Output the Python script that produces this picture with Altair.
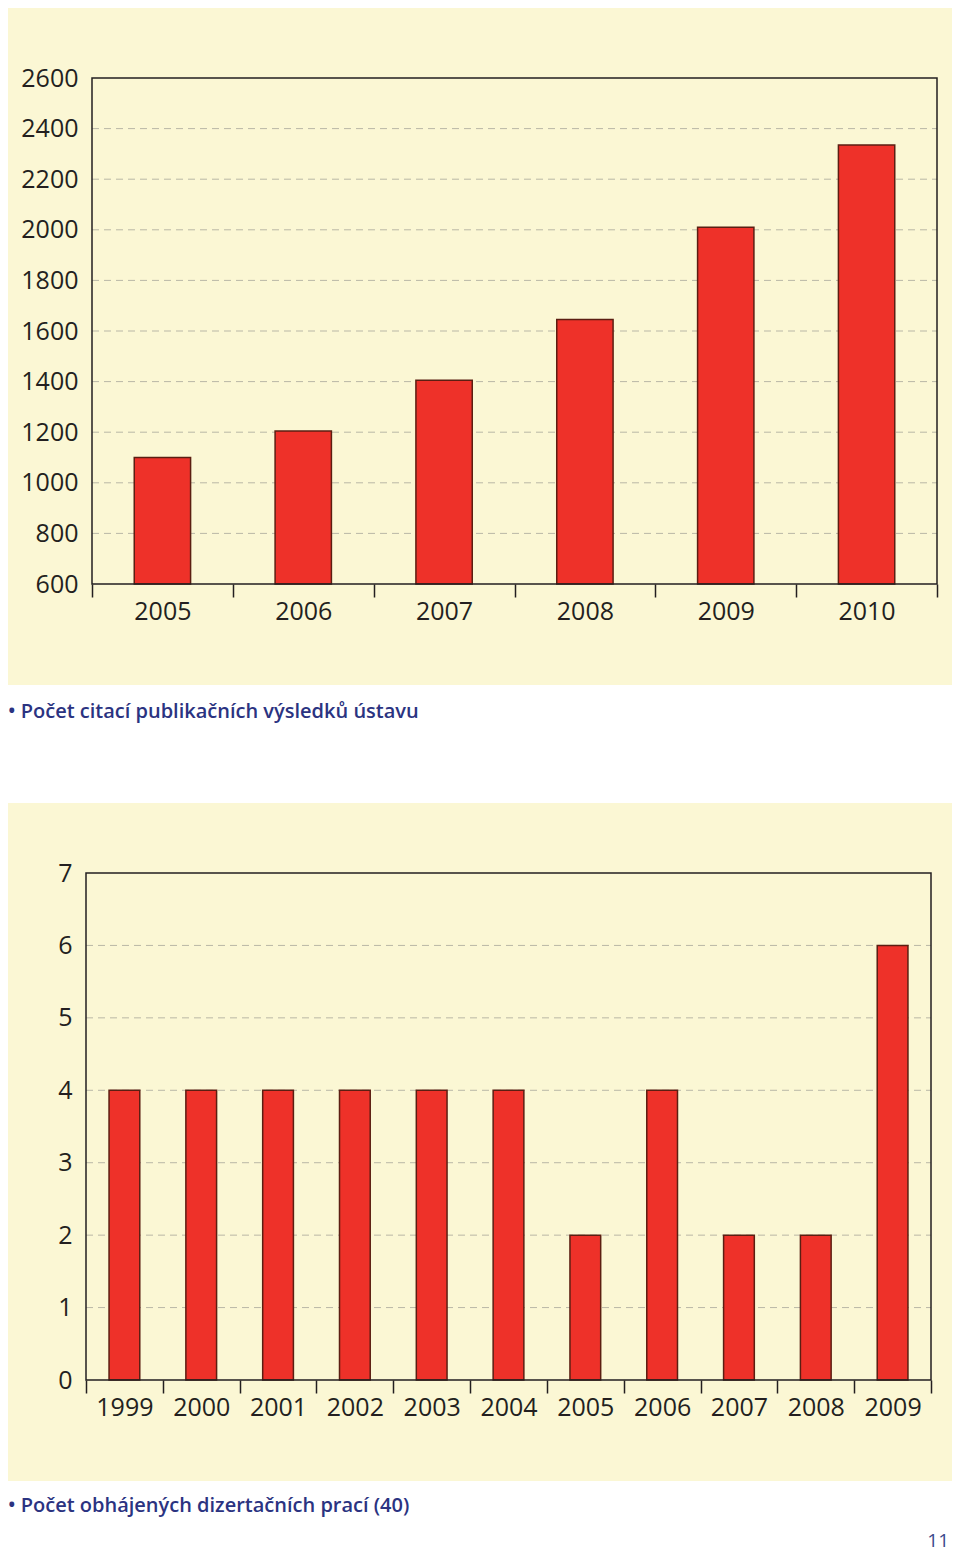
import altair as alt
import pandas as pd

# ---- data ----
years_cit = ["2005", "2006", "2007", "2008", "2009", "2010"]
citations = [1100, 1205, 1405, 1645, 2010, 2335]
cit_ticks = [600, 800, 1000, 1200, 1400, 1600, 1800, 2000, 2200, 2400, 2600]

years_diss = ["1999", "2000", "2001", "2002", "2003", "2004", "2005", "2006", "2007", "2008", "2009"]
dissertations = [4, 4, 4, 4, 4, 4, 2, 4, 2, 2, 6]
diss_ticks = [0, 1, 2, 3, 4, 5, 6, 7]

caption_cit = "• Počet citací publikačních výsledků ústavu"
caption_diss = "• Počet obhájených dizertačních prací (40)"
page_number = "11"

# ---- style ----
PANEL = "#fbf7d4"
BAR = "#ee3129"
BAR_STROKE = "#5b1e12"
GRID = "#b9b7a6"
INK = "#231f20"
CAPTION = "#2b3381"
PAGE = "#3c4a8c"
FONT = "Open Sans"
PLOT_W = 845
LEFT = 78          # plot origin offset from panel's left edge
PANEL_W = 944


def panel_chart(years, values, ticks, height, xoff, caption, caption_y,
                spacer_bottom=None, page=False):
    df = pd.DataFrame({"year": years, "value": values})
    one = pd.DataFrame({"k": [0]})
    grid_df = pd.DataFrame({"value": ticks[1:-1]})
    yscale = alt.Scale(domain=[ticks[0], ticks[-1]], nice=False, zero=False)
    yaxis = alt.Axis(title=None, values=ticks, format="d", ticks=False, domain=False,
                     labelFontSize=25, labelPadding=14 - xoff, labelColor=INK,
                     labelFont=FONT, grid=False, zindex=1)
    x0, x1 = xoff, xoff + PLOT_W
    width = x1

    layers = []
    if spacer_bottom is not None:
        layers.append(
            alt.Chart(one).mark_rect(opacity=0).encode(
                x=alt.value(-LEFT), x2=alt.value(PANEL_W - LEFT),
                y=alt.value(-70), y2=alt.value(spacer_bottom)))
    layers.append(
        alt.Chart(one).mark_rect(fill=PANEL).encode(
            x=alt.value(-LEFT), x2=alt.value(PANEL_W - LEFT),
            y=alt.value(-70), y2=alt.value(height + 101)))
    layers.append(
        alt.Chart(grid_df).mark_rule(color=GRID, strokeDash=[7, 5], strokeWidth=1).encode(
            y=alt.Y("value:Q", scale=yscale, axis=yaxis),
            x=alt.value(x0), x2=alt.value(x1)))
    layers.append(
        alt.Chart(df).mark_bar(color=BAR, stroke=BAR_STROKE, strokeWidth=1.5,
                               width=alt.RelativeBandSize(0.4)).encode(
            x=alt.X("year:N", sort=years,
                    scale=alt.Scale(range=[x0, x1], paddingInner=0, paddingOuter=0),
                    axis=alt.Axis(title=None, tickBand="extent", tickSize=13, tickColor=INK,
                                  tickWidth=1.5, domain=False,
                                  labelFontSize=25, labelColor=INK, labelFont=FONT,
                                  labelPadding=2, labelAngle=0, grid=False, zindex=1)),
            y=alt.Y("value:Q", scale=yscale, axis=yaxis),
            y2=alt.datum(ticks[0]),
        ))
    layers.append(
        alt.Chart(one).mark_rect(fill="transparent", stroke=INK, strokeWidth=1.5).encode(
            x=alt.value(x0), x2=alt.value(x1), y=alt.value(0), y2=alt.value(height)))
    layers.append(
        alt.Chart(one).mark_text(align="left", baseline="middle", font=FONT, fontSize=20,
                                 fontWeight=600, color=CAPTION).encode(
            x=alt.value(-LEFT), y=alt.value(caption_y), text=alt.value(caption)))
    if page:
        layers.append(
            alt.Chart(one).mark_text(align="right", baseline="alphabetic", font=FONT,
                                     fontSize=19, color=PAGE).encode(
                x=alt.value(PANEL_W - LEFT - 3), y=alt.value(674), text=alt.value(page_number)))
    return alt.layer(*layers).properties(width=width, height=height)


top = panel_chart(years_cit, citations, cit_ticks, 506, 6, caption_cit, 634, spacer_bottom=725)
bottom = panel_chart(years_diss, dissertations, diss_ticks, 507, 0, caption_diss, 633,
                     spacer_bottom=680, page=True)

chart = alt.vconcat(top, bottom, spacing=0).properties(
    padding=0, background="white"
).configure_view(stroke=None).configure_concat(spacing=0)

chart.save("out.html", embed_options={"renderer": "svg", "actions": False})
